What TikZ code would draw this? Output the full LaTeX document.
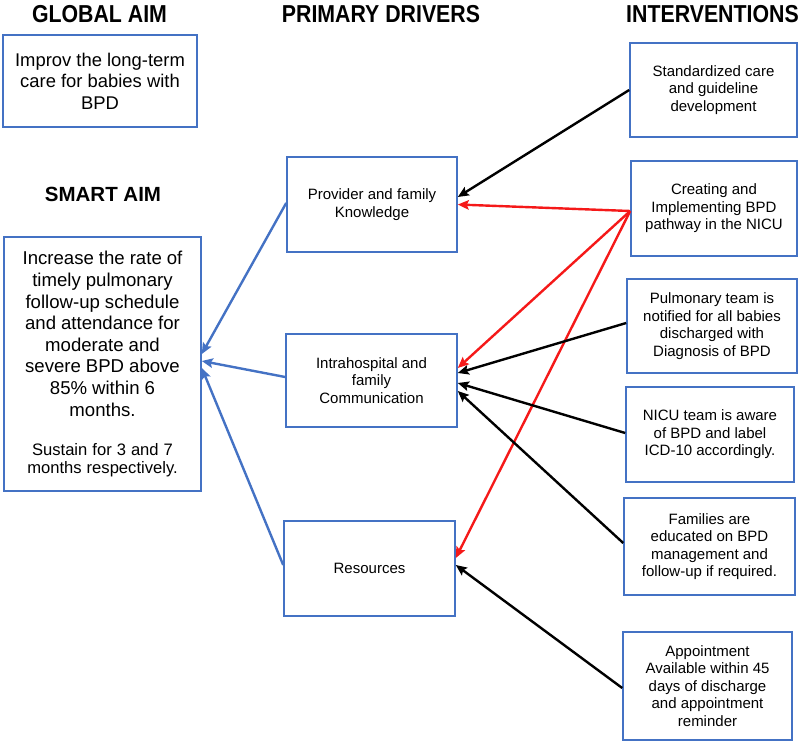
\documentclass[tikz,border=0pt]{standalone}
\usepackage{fontspec}
\setmainfont{Liberation Sans}
\newfontfamily\hdrfont[FakeStretch=0.87]{Liberation Sans}
\usetikzlibrary{arrows.meta}
\definecolor{boxblue}{RGB}{68,114,196}
\definecolor{arrred}{RGB}{245,25,25}
\begin{document}
\begin{tikzpicture}[x=1pt,y=-1pt,
  box/.style={draw=boxblue, line width=1.6pt, align=center, inner sep=2pt,
    font=\fontsize{15}{17.5}\selectfont},
  hdr/.style={font=\hdrfont\bfseries\fontsize{24.5}{26}\selectfont, inner sep=0pt},
  conn/.style={line width=2.4pt, -{Stealth[length=11pt,width=9.5pt,inset=2pt]}},
  ]
\useasboundingbox (0,0) rectangle (800,741);
% headers
\node[hdr] (hglobal) at (99.5,14) {GLOBAL AIM};
\node[hdr] (hdrivers) at (381,14) {PRIMARY DRIVERS};
\node[hdr] (hinterv) at (712.5,14) {INTERVENTIONS};
\node[font=\bfseries\fontsize{20.5}{22}\selectfont, inner sep=0pt] (hsmart) at (103,194) {SMART AIM};
% aims
\node[box, minimum width=194pt, minimum height=92pt, font=\fontsize{18.4}{21.5}\selectfont] (global) at (100,81)
  {Improv the long-term\\care for babies with\\BPD};
\node[box, minimum width=197pt, minimum height=254pt, text width=190pt] (smart) at (102.5,364)
  {\fontsize{18.6}{21.6}\selectfont Increase the rate of\\timely pulmonary\\follow-up schedule\\and attendance for\\moderate and\\severe BPD above\\85\% within 6\\months.\par
   \vspace{21pt}\fontsize{16.6}{18}\selectfont Sustain for 3 and 7\\months respectively.\par};
% drivers
\node[box, minimum width=170pt, minimum height=95pt] (prov) at (372,204.5)
  {Provider and family\\Knowledge};
\node[box, minimum width=171pt, minimum height=93pt] (intra) at (371.5,380.5)
  {Intrahospital and\\family\\Communication};
\node[box, minimum width=171pt, minimum height=95pt] (res) at (369.5,568.5)
  {Resources};
% interventions
\node[box, minimum width=167pt, minimum height=94pt] (std) at (713.5,90)
  {Standardized care\\and guideline\\development};
\node[box, minimum width=166pt, minimum height=95pt] (crt) at (714,208.5)
  {Creating and\\Implementing BPD\\pathway in the NICU};
\node[box, minimum width=170pt, minimum height=94pt] (pulm) at (712,326)
  {Pulmonary team is\\notified for all babies\\discharged with\\Diagnosis of BPD};
\node[box, minimum width=168pt, minimum height=95pt] (nicu) at (710,434.5)
  {NICU team is aware\\of BPD and label\\ICD-10 accordingly.};
\node[box, minimum width=171pt, minimum height=97pt] (fam) at (709.5,546.5)
  {Families are\\educated on BPD\\management and\\follow-up if required.};
\node[box, minimum width=169pt, minimum height=108pt] (appt) at (707.5,686)
  {Appointment\\Available within 45\\days of discharge\\and appointment\\reminder};
% connectors interventions -> drivers
\draw[conn, black] (std.west) -- ([yshift=7.5pt]prov.east);
\draw[conn, arrred] ([yshift=-2.5pt]crt.west) -- (prov.east);
\draw[conn, arrred] ([yshift=-2.5pt]crt.west) -- ([yshift=12.5pt]intra.east);
\draw[conn, arrred] ([yshift=-2.5pt]crt.west) -- ([yshift=10.5pt]res.east);
\draw[conn, black] ([yshift=3pt]pulm.west) -- ([yshift=7.5pt]intra.east);
\draw[conn, black] ([yshift=1.5pt]nicu.west) -- ([yshift=-2.5pt]intra.east);
\draw[conn, black] ([yshift=3.5pt]fam.west) -- ([yshift=-10.5pt]intra.east);
\draw[conn, black] ([yshift=-2pt]appt.west) -- ([yshift=3.5pt]res.east);
% drivers -> smart aim
\draw[conn, boxblue] ([yshift=1.5pt]prov.west) -- ([yshift=10pt]smart.east);
\draw[conn, boxblue] ([yshift=3.5pt]intra.west) -- ([yshift=3pt]smart.east);
\draw[conn, boxblue] ([yshift=3.5pt]res.west) -- ([yshift=-4pt]smart.east);
\end{tikzpicture}
\end{document}
